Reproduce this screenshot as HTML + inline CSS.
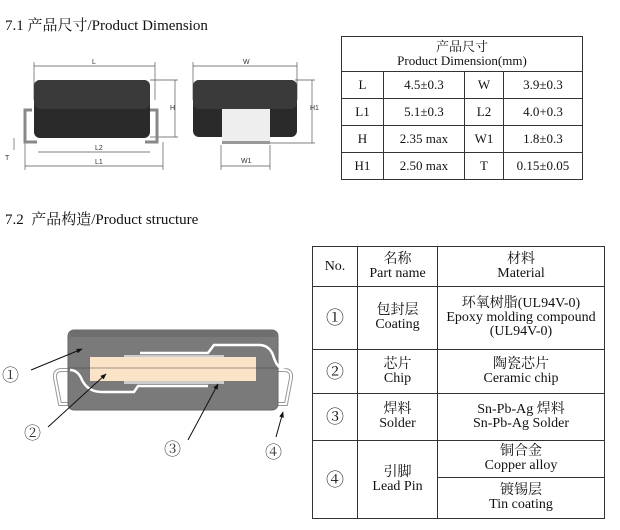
<!DOCTYPE html>
<html><head><meta charset="utf-8"><style>
body{margin:0;width:620px;height:530px;background:#fff;position:relative;font-family:"Liberation Serif","Noto Serif CJK SC",serif;color:#111;overflow:hidden}
.t{position:absolute;font-size:15px;white-space:nowrap}
table{position:absolute;border-collapse:collapse;font-size:13px;text-align:center;line-height:14px}
td{border:1.3px solid #333;padding:0}
</style></head><body>
<div class="t" style="left:5px;top:14px">7.1 产品尺寸/Product Dimension</div>
<div class="t" style="left:5px;top:208px">7.2 &nbsp;产品构造/Product structure</div>

<svg style="position:absolute;left:0;top:0" width="330" height="200">
<g stroke="#555" stroke-width="0.7" fill="none">
<line x1="34" y1="66" x2="155" y2="66"/><line x1="34" y1="62" x2="34" y2="100"/><line x1="155" y1="62" x2="155" y2="100"/>
<line x1="38" y1="152" x2="150" y2="152"/><line x1="25" y1="166" x2="163" y2="166"/>
<line x1="25" y1="142" x2="25" y2="170"/><line x1="163" y1="142" x2="163" y2="170"/>
<line x1="150" y1="80" x2="178" y2="80"/><line x1="150" y1="137" x2="178" y2="137"/><line x1="175" y1="80" x2="175" y2="137"/>
<line x1="14" y1="138" x2="14" y2="150"/>
<line x1="193" y1="66" x2="297" y2="66"/><line x1="193" y1="62" x2="193" y2="100"/><line x1="297" y1="62" x2="297" y2="100"/>
<line x1="295" y1="80" x2="315" y2="80"/><line x1="270" y1="143" x2="315" y2="143"/><line x1="312" y1="80" x2="312" y2="143"/>
<line x1="221" y1="166" x2="270" y2="166"/><line x1="221" y1="145" x2="221" y2="170"/><line x1="270" y1="145" x2="270" y2="170"/>
</g>
<g font-family="Liberation Sans" font-size="7" fill="#333">
<text x="92" y="64">L</text><text x="95" y="150">L2</text><text x="95" y="164">L1</text><text x="170" y="110">H</text>
<text x="243" y="64">W</text><text x="310" y="110">H1</text><text x="241" y="163">W1</text><text x="5" y="160">T</text></g>
<path d="M32 110 h-7 v32 h12 M150 110 h7 v32 h-12" stroke="#888" stroke-width="3" fill="none"/>
<rect x="34" y="80" width="116" height="58" rx="6" fill="#2a2a2a"/>
<rect x="34" y="80" width="116" height="29" rx="6" fill="#3a3a3a"/>
<rect x="193" y="80" width="104" height="57" rx="6" fill="#2a2a2a"/>
<rect x="193" y="80" width="104" height="29" rx="6" fill="#3a3a3a"/>
<rect x="222" y="109" width="48" height="35" fill="#eee"/>
<rect x="222" y="141" width="48" height="3" fill="#999"/>
</svg>

<svg style="position:absolute;left:0;top:300px" width="310" height="170">
<defs><marker id="a" viewBox="0 0 10 10" refX="9" refY="5" markerWidth="6" markerHeight="6" orient="auto"><path d="M0 1 L10 5 L0 9z" fill="#111"/></marker></defs>
<path d="M68 70 h-6 q-8 0 -7 8 l5 26 h16 M278 70 h6 q8 0 7 8 l-5 26 h-16" stroke="#999" stroke-width="4" fill="none"/>
<path d="M68 70 h-6 q-8 0 -7 8 l5 26 h16 M278 70 h6 q8 0 7 8 l-5 26 h-16" stroke="#fff" stroke-width="2" fill="none"/>
<rect x="68" y="30" width="210" height="80" rx="6" fill="#7a7a7a" stroke="#666"/>
<rect x="70" y="31" width="206" height="6" fill="#6e6e6e"/>
<path d="M70 70 q8 0 12 10 q6 12 20 12 h32 l4 -6 h70" stroke="#fff" stroke-width="2.5" fill="none"/>
<path d="M140 53 h68 l6 -8 h45 q10 0 14 10 q4 14 12 15" stroke="#fff" stroke-width="2.5" fill="none"/>
<rect x="124" y="55" width="100" height="3" fill="#ccc"/><rect x="124" y="81" width="100" height="3" fill="#ccc"/>
<rect x="90" y="57" width="166" height="24" fill="#fbe3c8"/>
<line x1="68" y1="68" x2="278" y2="68" stroke="#444" stroke-width="0.6"/>
<g stroke="#111" stroke-width="1" marker-end="url(#a)"><line x1="31" y1="70" x2="82" y2="49"/><line x1="48" y1="127" x2="106" y2="74"/>
<line x1="188" y1="140" x2="218" y2="84"/><line x1="276" y1="137" x2="283" y2="112"/></g>
<g font-size="17" fill="#333"><text x="2" y="81">①</text><text x="24" y="139">②</text><text x="164" y="155">③</text><text x="265" y="158">④</text></g>
</svg>

<table style="left:341px;top:36px;width:242px;height:144px">
<tr style="height:35px"><td colspan="4">产品尺寸<br>Product Dimension(mm)</td></tr>
<tr><td style="width:41px">L</td><td style="width:80px">4.5±0.3</td><td style="width:38px">W</td><td>3.9±0.3</td></tr>
<tr><td>L1</td><td>5.1±0.3</td><td>L2</td><td>4.0+0.3</td></tr>
<tr><td>H</td><td>2.35 max</td><td>W1</td><td>1.8±0.3</td></tr>
<tr><td>H1</td><td>2.50 max</td><td>T</td><td>0.15±0.05</td></tr>
</table>

<table style="left:312px;top:246px;width:293px;height:272px;font-size:14px">
<tr style="height:40px"><td style="width:44px">No.</td><td style="width:79px">名称<br>Part name</td><td>材料<br>Material</td></tr>
<tr style="height:63px"><td style="font-size:18px">①</td><td>包封层<br>Coating</td><td>环氧树脂(UL94V-0)<br>Epoxy molding compound<br>(UL94V-0)</td></tr>
<tr style="height:44px"><td style="font-size:18px">②</td><td>芯片<br>Chip</td><td>陶瓷芯片<br>Ceramic chip</td></tr>
<tr style="height:47px"><td style="font-size:18px">③</td><td>焊料<br>Solder</td><td>Sn-Pb-Ag 焊料<br>Sn-Pb-Ag Solder</td></tr>
<tr style="height:37px"><td rowspan="2" style="font-size:18px">④</td><td rowspan="2">引脚<br>Lead Pin</td><td>铜合金<br>Copper alloy</td></tr>
<tr style="height:41px"><td>镀锡层<br>Tin coating</td></tr>
</table>
</body></html>
